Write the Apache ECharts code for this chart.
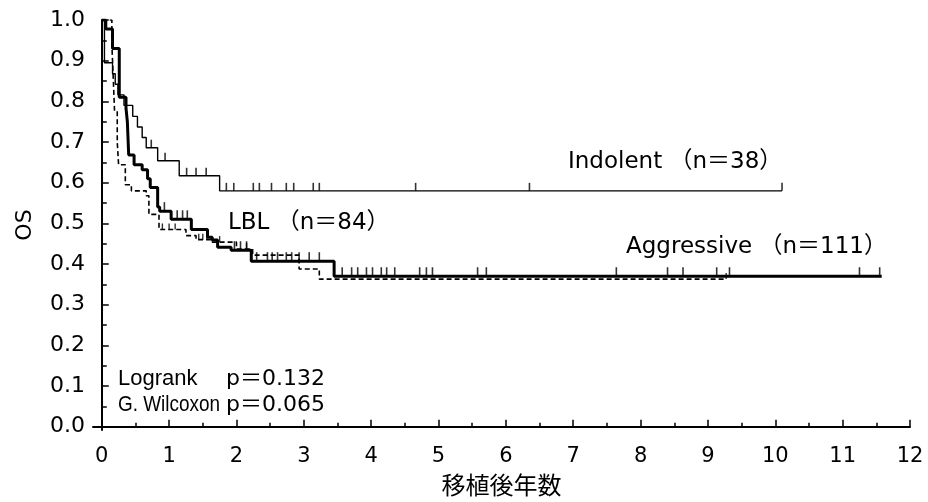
<!DOCTYPE html>
<html>
<head>
<meta charset="utf-8">
<script src="https://cdn.jsdelivr.net/npm/echarts@6/dist/echarts.min.js"></script>
<style>
  html, body { margin: 0; padding: 0; background: #fff; }
  #chart { width: 928px; height: 502px; }
</style>
</head>
<body>
<div id="chart"></div>
<script>
// Kaplan–Meier overall survival by subtype: [years after transplant, survival]
const indolentCurve = [
  [0, 1], [0.04, 0.895], [0.16, 0.868], [0.2, 0.842], [0.24, 0.816], [0.33, 0.79],
  [0.46, 0.763], [0.53, 0.737], [0.6, 0.711], [0.66, 0.686], [0.83, 0.654],
  [1.15, 0.617], [1.75, 0.58], [10.1, 0.58]
];
const lblCurve = [
  [0, 1], [0.15, 0.94], [0.17, 0.86], [0.19, 0.776], [0.23, 0.70], [0.25, 0.644],
  [0.35, 0.595], [0.44, 0.58], [0.66, 0.568], [0.70, 0.522], [0.85, 0.485],
  [1.25, 0.47], [1.40, 0.46], [1.64, 0.454], [2.0, 0.437], [2.24, 0.422],
  [2.93, 0.388], [3.23, 0.363], [9.27, 0.363]
];
const aggressiveCurve = [
  [0, 1], [0.06, 0.978], [0.16, 0.93], [0.26, 0.81], [0.36, 0.783], [0.38, 0.75],
  [0.40, 0.668], [0.48, 0.644], [0.6, 0.632], [0.68, 0.61], [0.72, 0.588],
  [0.83, 0.54], [0.86, 0.53], [1.03, 0.51], [1.33, 0.485], [1.57, 0.466],
  [1.64, 0.459], [1.72, 0.441], [1.92, 0.434], [2.22, 0.407], [3.45, 0.37],
  [11.58, 0.37]
];

// censoring times (years)
const indolentCensored = [0.735, 0.94, 1.26, 1.40, 1.55, 1.85, 1.96, 2.25, 2.34, 2.52,
  2.74, 2.85, 3.14, 3.23, 4.66, 6.35, 10.1];
const lblCensored = [0.9, 1.0, 1.09, 1.44, 1.5, 1.56, 1.75, 2.15, 9.27];
const aggressiveCensored = [0.93, 1.12, 1.20, 1.27, 1.97, 2.06, 2.15, 2.30, 2.46, 2.53,
  2.61, 2.74, 2.82, 2.93, 3.08, 3.23, 3.57, 3.71, 3.80, 3.93, 4.02, 4.15, 4.23,
  4.35, 4.72, 4.82, 4.91, 5.58, 5.71, 7.64, 8.40, 8.63, 9.13, 9.32, 11.25, 11.55];

// axis ticks
const xTicks = [0, 1, 2, 3, 4, 5, 6, 7, 8, 9, 10, 11, 12];
const xMinorTicks = [0.5, 1.5, 2.5, 3.5, 4.5, 5.5, 6.5, 7.5, 8.5, 9.5, 10.5, 11.5];
const yTicks = [0, 0.1, 0.2, 0.3, 0.4, 0.5, 0.6, 0.7, 0.8, 0.9, 1.0];
const yMinorTicks = [0.05, 0.15, 0.25, 0.35, 0.45, 0.55, 0.65, 0.75, 0.85, 0.95];

// survival value of a step curve at time t
function survivalAt(curve, t) {
  let v = curve[0][1];
  for (const [ti, vi] of curve) { if (ti <= t) v = vi; else break; }
  return v;
}
const censorPoints = (curve, times) => times.map(t => [t, survivalAt(curve, t)]);

const NUM_FONT = '"DejaVu Sans", "Noto Sans CJK JP", sans-serif';
const CJK_FONT = '"Noto Sans CJK JP", "Noto Sans", sans-serif';
const WORD_FONT = '"Liberation Sans", Arial, sans-serif';
const INK = '#000';

const chart = echarts.init(document.getElementById('chart'), null, { renderer: 'canvas' });

const tickStyle = { color: INK, width: 1.5 };
const label = (text, left, top, fontFamily, fontSize, scaleX) => ({
  type: 'text', left, top, scaleX: scaleX || 1,
  style: { text, fill: INK, fontFamily, fontSize }
});

chart.setOption({
  animation: false,
  backgroundColor: '#fff',
  grid: { left: 93, right: 18, top: 20, bottom: 68 },
  xAxis: [
    {
      type: 'value', min: -0.13, max: 12,
      name: '移植後年数', nameLocation: 'middle', nameGap: 43,
      nameTextStyle: { color: INK, fontSize: 24, fontFamily: CJK_FONT },
      axisLine: { lineStyle: { color: INK, width: 2 } },
      axisTick: { inside: true, length: 7, customValues: xTicks, lineStyle: tickStyle },
      axisLabel: { customValues: xTicks, color: INK, fontSize: 21, fontFamily: NUM_FONT, margin: 16 },
      splitLine: { show: false }
    },
    {
      type: 'value', min: -0.13, max: 12, position: 'bottom',
      axisLine: { show: false },
      axisTick: { inside: true, length: 4, customValues: xMinorTicks, lineStyle: tickStyle },
      axisLabel: { show: false },
      splitLine: { show: false }
    }
  ],
  yAxis: [
    {
      type: 'value', min: -0.008, max: 1.0,
      name: 'OS', nameLocation: 'middle', nameGap: 57, nameRotate: 90,
      nameTextStyle: { color: INK, fontSize: 22, fontFamily: NUM_FONT },
      axisLine: { lineStyle: { color: INK, width: 2 } },
      axisTick: { inside: true, length: 7, customValues: yTicks, lineStyle: tickStyle },
      axisLabel: {
        customValues: yTicks, color: INK, fontSize: 22, fontFamily: NUM_FONT, margin: 8,
        formatter: v => v.toFixed(1)
      },
      splitLine: { show: false }
    },
    {
      type: 'value', min: -0.008, max: 1.0, position: 'left',
      axisLine: { show: false },
      axisTick: { inside: true, length: 5, customValues: yMinorTicks, lineStyle: tickStyle },
      axisLabel: { show: false },
      splitLine: { show: false }
    }
  ],
  series: [
    {
      name: 'LBL', type: 'line', step: 'end', data: lblCurve, symbol: 'none',
      lineStyle: { color: INK, width: 1.6, type: [5, 3] }, z: 2
    },
    {
      name: 'Indolent', type: 'line', step: 'end', data: indolentCurve, symbol: 'none',
      lineStyle: { color: INK, width: 1.4 }, z: 3
    },
    {
      name: 'Aggressive', type: 'line', step: 'end', data: aggressiveCurve, symbol: 'none',
      lineStyle: { color: INK, width: 3 }, z: 4
    },
    {
      type: 'scatter', data: censorPoints(lblCurve, lblCensored),
      symbol: 'rect', symbolSize: [1.4, 6], symbolOffset: [0, -3],
      itemStyle: { color: INK }, z: 5
    },
    {
      type: 'scatter', data: censorPoints(indolentCurve, indolentCensored),
      symbol: 'rect', symbolSize: [1.6, 8], symbolOffset: [0, -4],
      itemStyle: { color: INK }, z: 5
    },
    {
      type: 'scatter', data: censorPoints(aggressiveCurve, aggressiveCensored),
      symbol: 'rect', symbolSize: [1.6, 8], symbolOffset: [0, -5],
      itemStyle: { color: INK }, z: 5
    }
  ],
  graphic: [
    label('Indolent （n＝38）', 568, 151, NUM_FONT, 23),
    label('LBL （n＝84）', 228, 212, NUM_FONT, 23),
    label('Aggressive （n＝111）', 626, 236, NUM_FONT, 23),
    label('Logrank', 118, 368, WORD_FONT, 22),
    label('p＝0.132', 226, 368, NUM_FONT, 22),
    label('G. Wilcoxon', 118, 394, WORD_FONT, 22, 0.86),
    label('p＝0.065', 226, 394, NUM_FONT, 22)
  ]
});
</script>
</body>
</html>
